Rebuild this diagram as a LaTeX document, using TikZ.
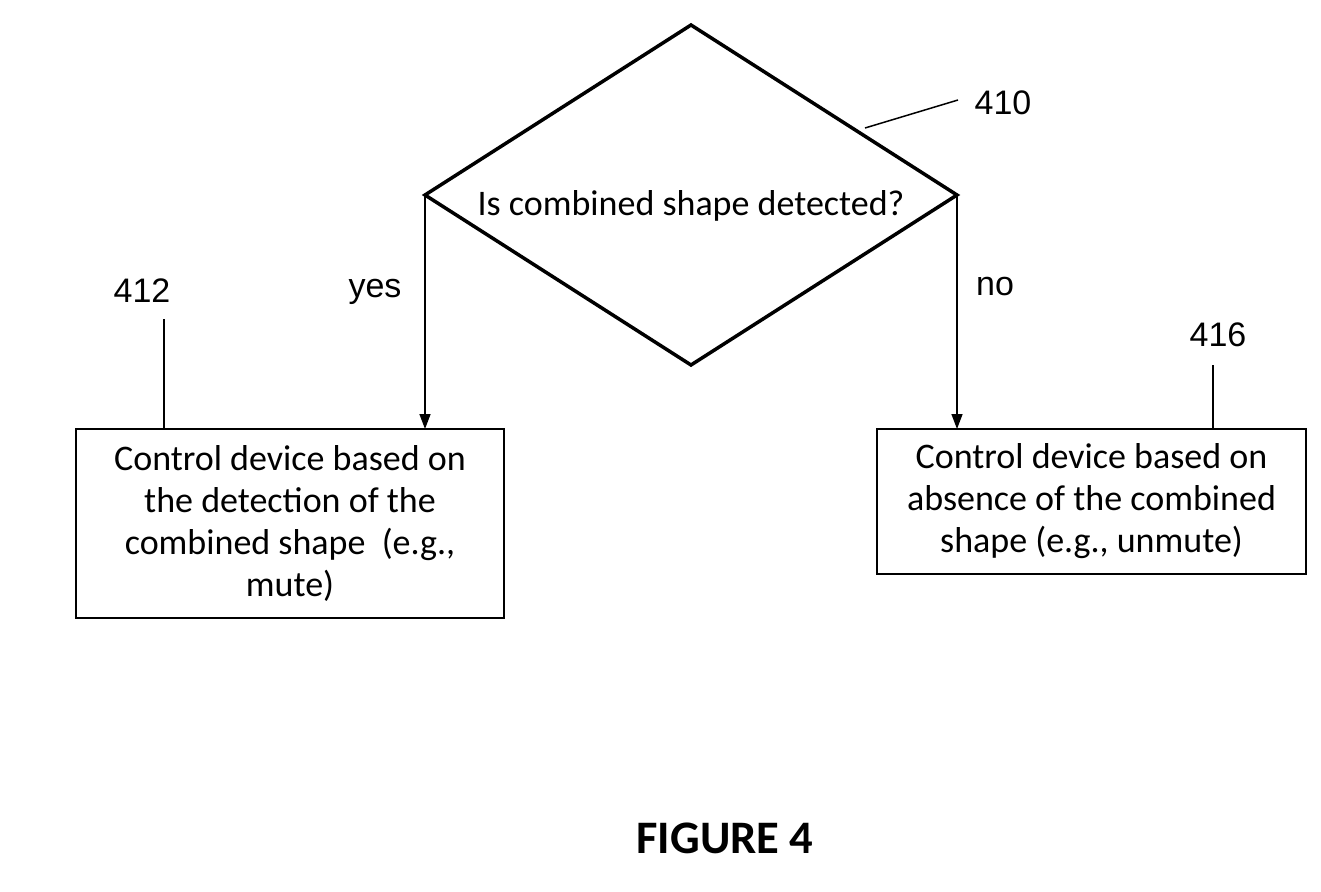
\documentclass[tikz,border=0pt]{standalone}
\usepackage{fontspec}
\setmainfont{Carlito}
\newfontfamily\arialf{Liberation Sans}
\usetikzlibrary{shapes.geometric,arrows.meta}
\begin{document}
\begin{tikzpicture}[x=1pt,y=-1pt,
  boxtext/.style={font=\fontsize{36}{42}\selectfont},
  procbox/.style={draw,line width=2pt,align=center,inner sep=0pt,outer sep=0pt,boxtext},
  reflabel/.style={font=\arialf\fontsize{34}{40}\selectfont,anchor=base,inner sep=0pt},
  arr/.style={line width=1.5pt,-{Triangle[width=11pt,length=15pt]}},
  leader/.style={line width=2pt},
]
\useasboundingbox (0,0) rectangle (1321,891);
% decision
\node[diamond,draw,line width=3.5pt,minimum width=532pt,minimum height=340pt,inner sep=0pt,outer sep=0pt] (dec) at (691,195) {};
\node[boxtext,anchor=base,inner sep=0pt] (dectext) at (691,215) {Is combined shape detected?};
% boxes
\node[procbox,minimum width=428pt,minimum height=189pt] (lbox) at (290,523.5)
  {Control device based on\\the detection of the\\combined shape\ \ (e.g.,\\mute)};
\node[procbox,minimum width=429pt,minimum height=145pt] (rbox) at (1091.5,501.5)
  {Control device based on\\absence of the combined\\shape (e.g., unmute)};
% arrows
\draw[arr] (dec.west) -- (dec.west |- lbox.north);
\draw[arr] (dec.east) -- (dec.east |- rbox.north);
\node[reflabel] (yes) at (375,297) {yes};
\node[reflabel] (no) at (995,295) {no};
% reference labels
\node[reflabel] (l410) at (1003,114) {410};
\coordinate (c410a) at (865,128);
\coordinate (c410b) at (958,100);
\draw[line width=1.5pt] (c410a) -- (c410b);
\node[reflabel] (l412) at (142,302) {412};
\coordinate (c412) at (164,319);
\draw[leader,line width=2.5pt] (c412) -- (c412 |- lbox.north);
\node[reflabel] (l416) at (1218,346) {416};
\coordinate (c416) at (1213,365);
\draw[leader] (c416) -- (c416 |- rbox.north);
% caption
\node[font=\bfseries\fontsize{46.6}{50}\selectfont,anchor=base,inner sep=0pt] (fig) at (725,853) {FIGURE 4};
\end{tikzpicture}
\end{document}
